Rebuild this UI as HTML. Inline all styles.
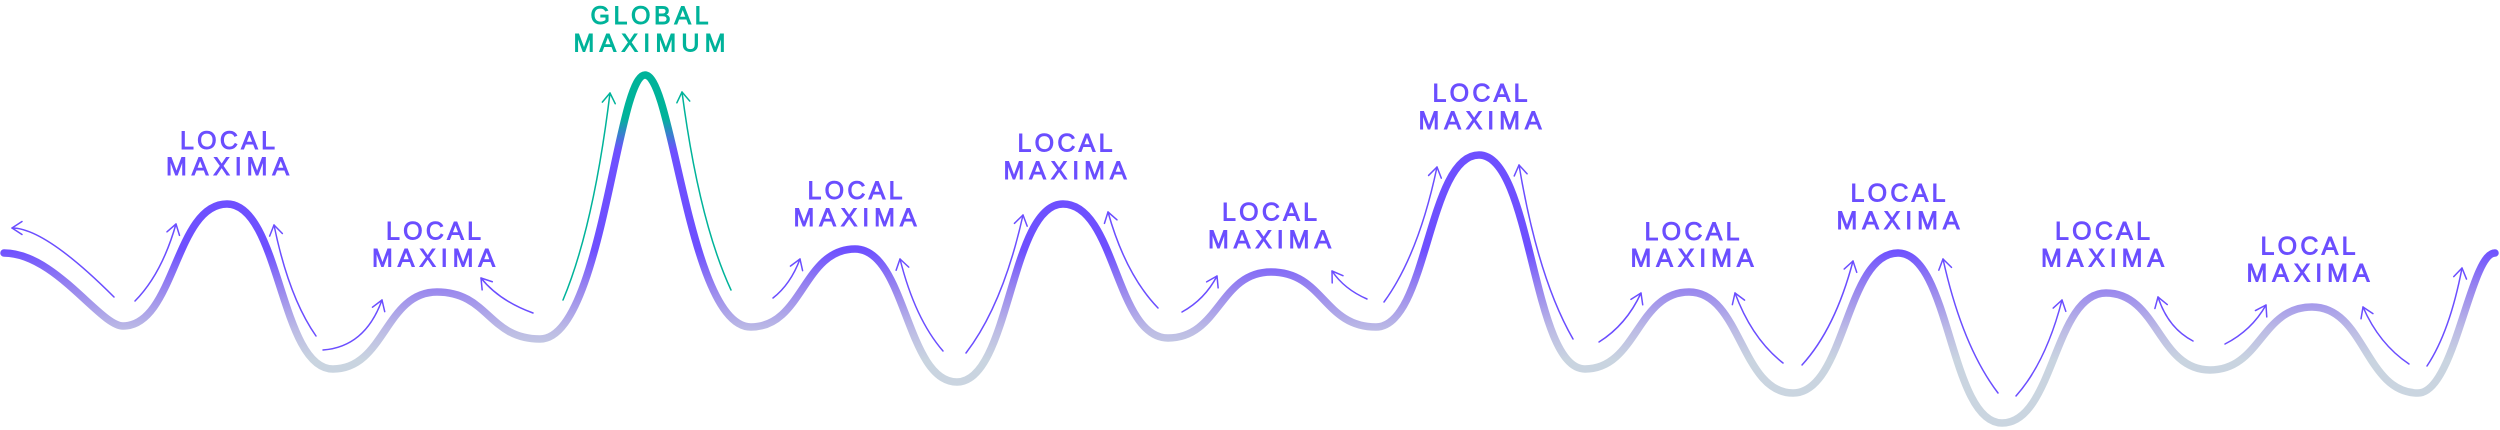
<!DOCTYPE html>
<html>
<head>
<meta charset="utf-8">
<style>
html,body{margin:0;padding:0;background:#fff;}
svg{display:block;}
text{font-family:"Liberation Sans",Arial,sans-serif;font-size:25px;}
</style>
</head>
<body>
<svg width="2500" height="430" viewBox="0 0 2500 430" xmlns="http://www.w3.org/2000/svg">
<defs>
<linearGradient id="g" gradientUnits="userSpaceOnUse" x1="0" y1="70" x2="0" y2="400">
<stop offset="0" stop-color="#00B39A"/>
<stop offset="0.145" stop-color="#00B39A"/>
<stop offset="0.242" stop-color="#6E50FF"/>
<stop offset="0.545" stop-color="#6E50FF"/>
<stop offset="0.667" stop-color="#9A88EE"/>
<stop offset="0.788" stop-color="#BCBBE5"/>
<stop offset="0.879" stop-color="#C9D4E0"/>
<stop offset="1" stop-color="#CAD5E0"/>
</linearGradient>
<marker id="mp" markerUnits="userSpaceOnUse" markerWidth="16" markerHeight="18" refX="11" refY="7" orient="auto" overflow="visible">
<path d="M1,0.5 L11,7 L1,13.5" fill="none" stroke="#6B4EFF" stroke-width="1.5" stroke-linecap="round" stroke-linejoin="round"/>
</marker>
<marker id="mt" markerUnits="userSpaceOnUse" markerWidth="16" markerHeight="18" refX="11" refY="7" orient="auto" overflow="visible">
<path d="M1,0.5 L11,7 L1,13.5" fill="none" stroke="#00B39A" stroke-width="1.5" stroke-linecap="round" stroke-linejoin="round"/>
</marker>
</defs>

<!-- main curve -->
<path fill="none" stroke="url(#g)" stroke-width="7.5" stroke-linecap="round" stroke-linejoin="round"
d="M4,253
C55,253 100,326 123,326
C175,326 175,204 227,204
C280,204 280,369 333,369
C385,369 385,292 437,292
C488.5,292 488.5,339 540,339
C602,339 617,75 645,75
C673,75 689,327 751,327
C803,327 803,249 855,249
C906,249 906,382 957,382
C1010,382 1010,204 1063,204
C1115.5,204 1115.5,338 1168,338
C1219.5,338 1219.5,272 1271,272
C1323.5,272 1323.5,327 1376,327
C1427.5,327 1427.5,155 1479,155
C1532,155 1532,369 1585,369
C1637,369 1637,292 1689,292
C1741,292 1741,393 1793,393
C1845.5,393 1845.5,253 1898,253
C1950,253 1950,423 2002,423
C2054,423 2054,293 2106,293
C2158,293 2158,370 2210,370
C2261,370 2261,307 2312,307
C2365,307 2365,393 2418,393
C2455,393 2470,253 2495,253"/>

<!-- arrows -->
<g fill="none" stroke="#6B4EFF" stroke-width="1.5" stroke-linecap="round" marker-end="url(#mp)">
<path d="M114,297 Q45,228 12,228"/>
<path d="M135,301 Q161.7,274 176,224"/>
<path d="M316,336 Q288.7,297 274,225"/>
<path d="M323,350 Q365,347 382,300"/>
<path d="M533,313 Q499.2,300.8 481,278"/>
<path d="M773,298 Q790.5,284.4 800,259"/>
<path d="M943,351 Q915,318.8 900,259"/>
<path d="M966,353 Q1003,304.7 1023,215"/>
<path d="M1158,308 Q1125.5,274.4 1108,212"/>
<path d="M1182,312 Q1204.8,299.4 1217,276"/>
<path d="M1367,299 Q1344.3,289.2 1332,271"/>
<path d="M1384,302 Q1418.5,254.8 1437,167"/>
<path d="M1573,339 Q1537.9,278.1 1519,165"/>
<path d="M1599,342 Q1626.3,324.9 1641,293"/>
<path d="M1783,363 Q1751.8,338.5 1735,293"/>
<path d="M1802,365 Q1835.2,328.6 1853,261"/>
<path d="M1998,393 Q1962.3,346.1 1943,259"/>
<path d="M2016,396 Q2045.9,362.4 2062,300"/>
<path d="M2193,341 Q2168,328 2158,297"/>
<path d="M2225,344 Q2251.7,330.4 2266,305"/>
<path d="M2409,364 Q2379.1,344 2363,307"/>
<path d="M2427,366 Q2449.8,331.7 2462,268"/>
</g>
<g fill="none" stroke="#00B39A" stroke-width="1.5" stroke-linecap="round" marker-end="url(#mt)">
<path d="M563,300 Q593.5,227.5 610,93"/>
<path d="M731,290 Q699,221 682,92"/>
</g>

<!-- labels -->
<g fill="#6B4EFF" stroke="#6B4EFF" stroke-width="0.9" text-anchor="middle">
<text x="227.5" y="149" textLength="95" lengthAdjust="spacing">LOCAL</text>
<text x="227.5" y="175" textLength="123" lengthAdjust="spacing">MAXIMA</text>
<text x="433.5" y="239.5" textLength="95" lengthAdjust="spacing">LOCAL</text>
<text x="433.5" y="266.5" textLength="123" lengthAdjust="spacing">MAXIMA</text>
<text x="855" y="199" textLength="95" lengthAdjust="spacing">LOCAL</text>
<text x="855" y="226" textLength="123" lengthAdjust="spacing">MAXIMA</text>
<text x="1065" y="151.5" textLength="95" lengthAdjust="spacing">LOCAL</text>
<text x="1065" y="179" textLength="123" lengthAdjust="spacing">MAXIMA</text>
<text x="1269.5" y="220.5" textLength="95" lengthAdjust="spacing">LOCAL</text>
<text x="1269.5" y="248" textLength="123" lengthAdjust="spacing">MAXIMA</text>
<text x="1480" y="101.5" textLength="95" lengthAdjust="spacing">LOCAL</text>
<text x="1480" y="129" textLength="123" lengthAdjust="spacing">MAXIMA</text>
<text x="1692" y="240" textLength="95" lengthAdjust="spacing">LOCAL</text>
<text x="1692" y="266.5" textLength="123" lengthAdjust="spacing">MAXIMA</text>
<text x="1898" y="201.5" textLength="95" lengthAdjust="spacing">LOCAL</text>
<text x="1898" y="229" textLength="123" lengthAdjust="spacing">MAXIMA</text>
<text x="2102.5" y="239.5" textLength="95" lengthAdjust="spacing">LOCAL</text>
<text x="2102.5" y="266.5" textLength="123" lengthAdjust="spacing">MAXIMA</text>
<text x="2308" y="254.5" textLength="95" lengthAdjust="spacing">LOCAL</text>
<text x="2308" y="281.5" textLength="123" lengthAdjust="spacing">MAXIMA</text>
</g>
<g fill="#00B39A" stroke="#00B39A" stroke-width="0.9" text-anchor="middle">
<text x="649.5" y="24" textLength="118" lengthAdjust="spacing">GLOBAL</text>
<text x="649.5" y="51.5" textLength="152" lengthAdjust="spacing">MAXIMUM</text>
</g>
</svg>
</body>
</html>
